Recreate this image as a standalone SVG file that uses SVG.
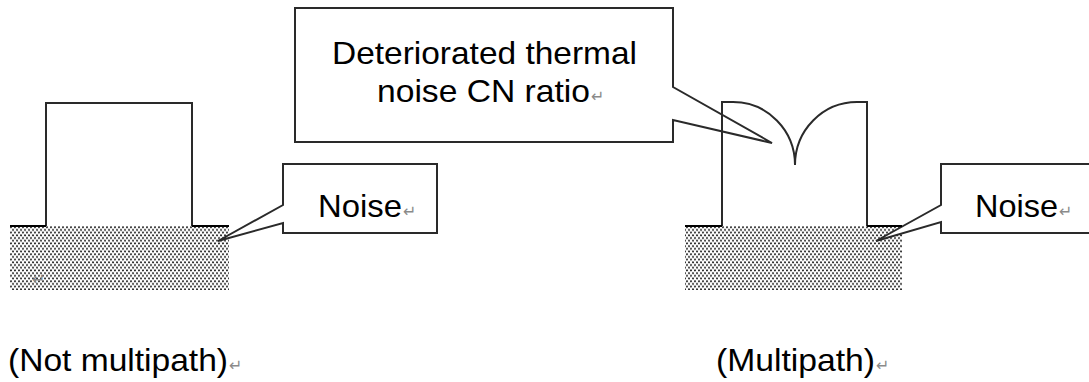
<svg xmlns="http://www.w3.org/2000/svg" width="1089" height="382" viewBox="0 0 1089 382">
  <style>
    .ln { fill: none; stroke: #2a2a2a; stroke-width: 2; stroke-linejoin: miter; }
    .base { fill: none; stroke: #000; stroke-width: 2.2; }
    .callout { fill: #fff; stroke: #2a2a2a; stroke-width: 2; stroke-linejoin: miter; }
    .t { font-family: "Liberation Sans", Arial, sans-serif; font-size: 32px; fill: #000; }
    .pm { font-family: "DejaVu Sans", "Liberation Sans", sans-serif; font-size: 16px; fill: #8a8a8a; }
    .noise { fill: url(#dots); }
  </style>
  <defs>
    <pattern id="dots" x="10" y="226" width="4" height="5.4" patternUnits="userSpaceOnUse">
      <rect width="4" height="5.4" fill="#fff"/>
      <circle cx="1" cy="1.2" r="1.05" fill="#222"/>
      <circle cx="3" cy="3.9" r="1.05" fill="#222"/>
    </pattern>
  </defs>
  <rect width="1089" height="382" fill="#fff"/>

  <!-- Left: not multipath -->
  <g id="noise-left">
    <rect class="noise" x="10" y="226" width="219" height="64"/>
    <text class="pm" x="32" y="285">↵</text>
  </g>
  <g id="callout-noise-left">
    <path class="callout" d="M283,164 H437 V233 H283 V223 L218,241 L283,205 Z"/>
    <text class="t" x="318" y="217" textLength="84" lengthAdjust="spacingAndGlyphs">Noise</text>
    <text class="pm" x="403" y="217">↵</text>
  </g>
  <g id="pulse-left">
    <path class="ln" d="M46,226 V103 H192 V226"/>
    <path class="base" d="M10,226 H46 M192,226 H229"/>
  </g>

  <!-- Right: multipath -->
  <g id="noise-right">
    <rect class="noise" x="685" y="226" width="217" height="64"/>
  </g>
  <g id="callout-cn">
    <path class="callout" d="M295,8 H673 V87 L772,143 L673,120 V142 H295 Z"/>
    <text class="t" x="332" y="64" textLength="305" lengthAdjust="spacingAndGlyphs">Deteriorated thermal</text>
    <text class="t" x="377" y="102" textLength="213" lengthAdjust="spacingAndGlyphs">noise CN ratio</text>
    <text class="pm" x="591" y="102">↵</text>
  </g>
  <g id="callout-noise-right">
    <path class="callout" d="M941,164 H1095 V233 H941 V222 L876,241 L941,205 Z"/>
    <text class="t" x="975" y="217" textLength="83" lengthAdjust="spacingAndGlyphs">Noise</text>
    <text class="pm" x="1059" y="217">↵</text>
  </g>
  <g id="pulse-right">
    <path class="ln" d="M722,226 V102 H733 A62,63 0 0 1 795,165 A62,63 0 0 1 857,102 H867 V226"/>
    <path class="base" d="M685,226 H722 M867,226 H902"/>
  </g>

  <g id="connectors"></g>

  <g id="labels">
    <text class="t" x="8" y="371" textLength="220" lengthAdjust="spacingAndGlyphs">(Not multipath)</text>
    <text class="pm" x="229" y="371">↵</text>
    <text class="t" x="716" y="371" textLength="159" lengthAdjust="spacingAndGlyphs">(Multipath)</text>
    <text class="pm" x="876" y="371">↵</text>
  </g>
</svg>
